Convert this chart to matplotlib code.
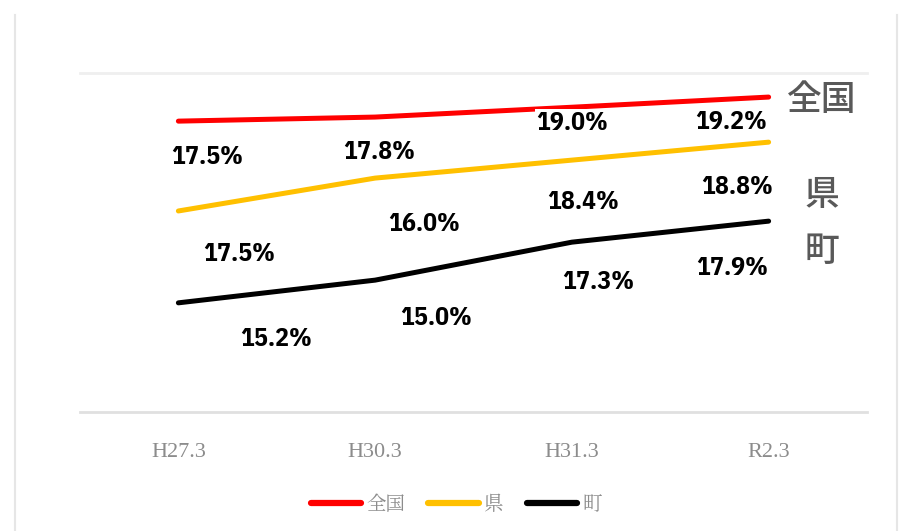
import matplotlib.pyplot as plt
from matplotlib.lines import Line2D

plt.rcParams['font.family'] = ['Noto Sans CJK JP', 'DejaVu Sans']

# categories (fiscal year points)
periods = ['H27.3', 'H30.3', 'H31.3', 'R2.3']

# line heights as drawn in the picture (hidden axis, 10-20)
line_zenkoku = [18.58, 18.70, 18.99, 19.29]
line_ken = [15.93, 16.90, 17.43, 17.96]
line_machi = [13.22, 13.89, 15.01, 15.63]

# data label values shown on the chart
lab_zenkoku = [17.5, 17.8, 19.0, 19.2]
lab_ken = [17.5, 16.0, 18.4, 18.8]
lab_machi = [15.2, 15.0, 17.3, 17.9]

names = ['全国', '県', '町']
colors = ['#ff0000', '#ffc000', '#000000']

# label offsets in points (dx, dy) from each point
off_zenkoku = [(21, -26), (3, -25), (0, -11), (-27, -18)]
off_ken = [(44, -31), (35, -33), (8, -30), (-23, -32)]
off_machi = [(70, -26), (44, -27), (19, -29), (-26, -34)]

label_font = ['IBM Plex Sans Condensed', 'DejaVu Sans']

fig = plt.figure(figsize=(9.02, 5.31), dpi=100)
ax = fig.add_axes([80/902, (531-412)/531, (867-80)/902, (412-73)/531])

x = range(len(periods))
series = [(line_zenkoku, lab_zenkoku, off_zenkoku),
          (line_ken, lab_ken, off_ken),
          (line_machi, lab_machi, off_machi)]
for (vals, labs, offs), name, c in zip(series, names, colors):
    ax.plot(x, vals, color=c, lw=3.6, solid_capstyle='round', label=name)
    for i, (v, l, o) in enumerate(zip(vals, labs, offs)):
        ax.annotate('%.1f%%' % l, (i, v), xytext=o, textcoords='offset points',
                    ha='center', va='center', fontsize=18.5, fontweight='bold',
                    family=label_font, fontstretch='condensed',
                    bbox=dict(boxstyle='square,pad=0.05', fc='white', ec='none'))

ax.set_xlim(-0.5, 3.5)
ax.set_ylim(10, 20)
ax.set_yticks([])
ax.set_xticks(list(x))
ax.set_xticklabels(periods, family='Liberation Serif', fontsize=16, color='#8c8c8c')
ax.tick_params(axis='x', length=0, pad=22)
for s in ['left', 'right', 'top']:
    ax.spines[s].set_visible(False)
ax.spines['bottom'].set_color('#e0e0e0')
ax.spines['bottom'].set_linewidth(2)
ax.axhline(20, color='#efefef', lw=2, clip_on=False)

# series names at right end
ax.text(3.093, line_zenkoku[-1] - 0.1, '全国', fontsize=25, color='#595959',
        fontweight='medium', ha='left', va='center', clip_on=False)
ax.text(3.27, 16.4, '県', fontsize=25, color='#595959', fontweight='medium',
        ha='center', va='center', clip_on=False)
ax.text(3.27, 14.75, '町', fontsize=25, color='#595959', fontweight='medium',
        ha='center', va='center', clip_on=False)

leg = fig.legend(loc='center', bbox_to_anchor=(456/902, 1 - 505/531), ncol=3,
                 frameon=False, handlelength=2.6, handletextpad=0.25,
                 columnspacing=1.2,
                 prop={'family': ['Noto Serif CJK JP', 'Noto Sans CJK JP'], 'size': 14})
for t in leg.get_texts():
    t.set_color('#8c8c8c')
for h in leg.get_lines():
    h.set_linewidth(4.5)

# faint frame lines
fig.add_artist(Line2D([15/902, 15/902], [0, 1 - 15/531], color='#e6e6e6', lw=1.5))
fig.add_artist(Line2D([897/902, 897/902], [0, 1 - 15/531], color='#e6e6e6', lw=1.5))

fig.savefig('out.png', dpi=100)
